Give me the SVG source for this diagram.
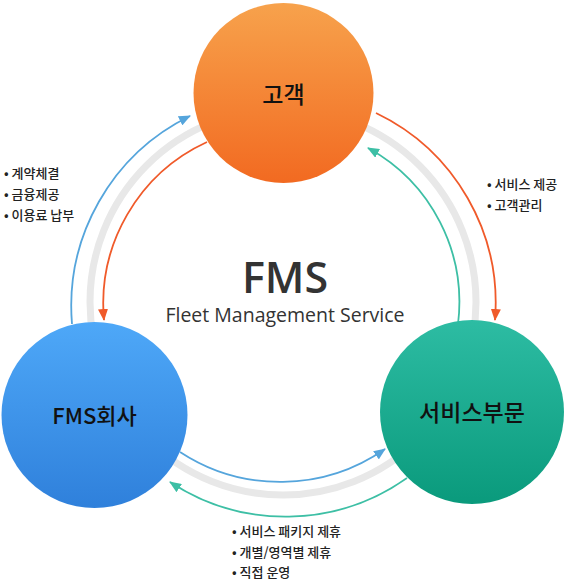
<svg xmlns="http://www.w3.org/2000/svg" width="567" height="582" viewBox="0 0 567 582">
<style>
.lbl{font-family:"Noto Sans CJK KR","Noto Sans",sans-serif;font-size:23px;font-weight:500;fill:#111;text-anchor:middle;dominant-baseline:central}
.blt{font-family:"Noto Sans CJK KR","Noto Sans",sans-serif;font-size:13px;font-weight:500;fill:#222}
.arc{fill:none;stroke-width:1.8}
</style>
<defs>
<linearGradient id="gO" x1="0" y1="0" x2="0" y2="1"><stop offset="0" stop-color="#f7a24c"/><stop offset="1" stop-color="#f26a21"/></linearGradient>
<linearGradient id="gB" x1="0" y1="0" x2="0" y2="1"><stop offset="0" stop-color="#4ea8f8"/><stop offset="1" stop-color="#2f80db"/></linearGradient>
<linearGradient id="gG" x1="0" y1="0" x2="0" y2="1"><stop offset="0" stop-color="#2dbca3"/><stop offset="1" stop-color="#0a9a7c"/></linearGradient>
<marker id="mB" viewBox="0 0 12 10" refX="11" refY="5" markerWidth="12" markerHeight="10" markerUnits="userSpaceOnUse" orient="auto"><path d="M0,0 L12,5 L0,10 Z" fill="#55a5dc"/></marker>
<marker id="mO" viewBox="0 0 12 10" refX="11" refY="5" markerWidth="12" markerHeight="10" markerUnits="userSpaceOnUse" orient="auto"><path d="M0,0 L12,5 L0,10 Z" fill="#f05a2a"/></marker>
<marker id="mG" viewBox="0 0 12 10" refX="11" refY="5" markerWidth="12" markerHeight="10" markerUnits="userSpaceOnUse" orient="auto"><path d="M0,0 L12,5 L0,10 Z" fill="#3dbfa5"/></marker>
</defs>
<circle cx="283" cy="302" r="193" fill="none" stroke="#e8e8e8" stroke-width="7"/>
<g id="connectors">
<path class="arc" stroke="#55a5dc" d="M72,324 A212,212 0 0 1 190,116" marker-end="url(#mB)"/>
<path class="arc" stroke="#f05a2a" d="M207,142 A178,178 0 0 0 104,320" marker-end="url(#mO)"/>
<path class="arc" stroke="#f05a2a" d="M376,113 A211,211 0 0 1 495,320" marker-end="url(#mO)"/>
<path class="arc" stroke="#3dbfa5" d="M458,324 A176,176 0 0 0 368,148" marker-end="url(#mG)"/>
<path class="arc" stroke="#55a5dc" d="M180,452 A183,183 0 0 0 385,449" marker-end="url(#mB)"/>
<path class="arc" stroke="#3dbfa5" d="M407,478 A210,210 0 0 1 170,482" marker-end="url(#mG)"/>
</g>
<g id="customer">
<circle cx="283.5" cy="93" r="90" fill="url(#gO)"/>
<text class="lbl" x="283.5" y="93">고객</text>
</g>
<g id="fms-company">
<circle cx="94.5" cy="415" r="93" fill="url(#gB)"/>
<text class="lbl" x="94.5" y="414" style="font-size:22px">FMS회사</text>
</g>
<g id="service-dept">
<circle cx="472" cy="412" r="92" fill="url(#gG)"/>
<text class="lbl" x="472" y="411">서비스부문</text>
</g>
<g id="center">
<text x="285" y="293" text-anchor="middle" font-family="'Open Sans','Noto Sans',sans-serif" font-size="43" font-weight="600" fill="#333">FMS</text>
<text x="285" y="322" text-anchor="middle" font-family="'Open Sans','Noto Sans',sans-serif" font-size="19.5" font-weight="500" fill="#333">Fleet Management Service</text>
</g>
<g id="notes-left">
<text class="blt" x="4" y="178">•  계약체결</text>
<text class="blt" x="4" y="199">•  금융제공</text>
<text class="blt" x="4" y="220">•  이용료 납부</text>
</g>
<g id="notes-right">
<text class="blt" x="487" y="189">•  서비스 제공</text>
<text class="blt" x="487" y="210">•  고객관리</text>
</g>
<g id="notes-bottom">
<text class="blt" x="232" y="536">•  서비스 패키지 제휴</text>
<text class="blt" x="232" y="557">•  개별/영역별 제휴</text>
<text class="blt" x="232" y="577">•  직접 운영</text>
</g>
</svg>
